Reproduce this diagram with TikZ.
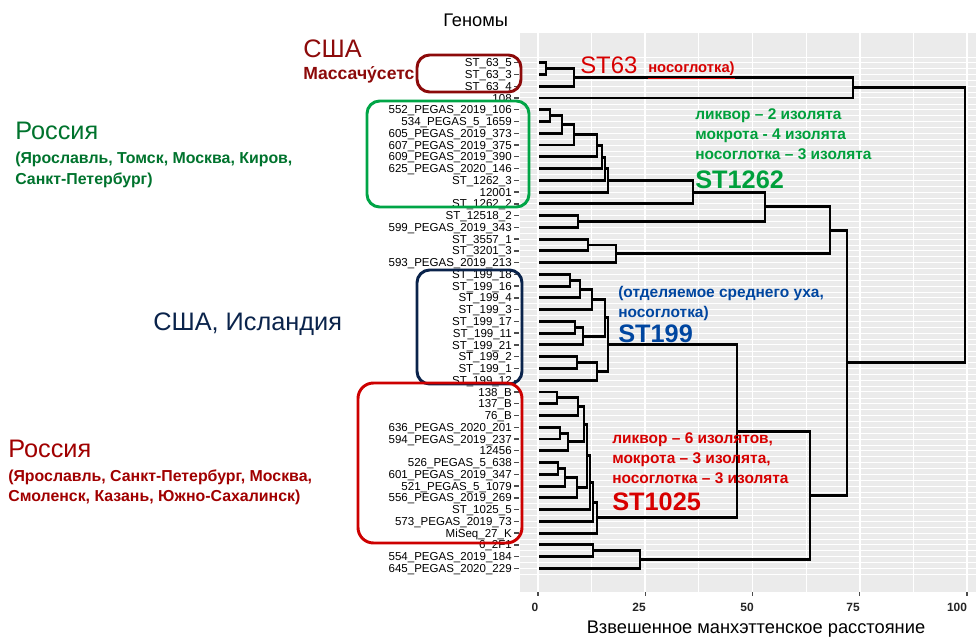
\documentclass[tikz,border=0pt]{standalone}
\usepackage{fontspec}
\setmainfont{Liberation Sans}
\usetikzlibrary{calc}

\definecolor{usared}{RGB}{140,10,10}
\definecolor{rugreen}{RGB}{0,115,45}
\definecolor{boxgreen}{RGB}{0,165,70}
\definecolor{isnavy}{RGB}{10,35,75}
\definecolor{rured}{RGB}{160,0,0}
\definecolor{boxred}{RGB}{205,0,0}
\definecolor{stgreen}{RGB}{0,160,60}
\definecolor{stblue}{RGB}{0,70,160}
\definecolor{stred}{RGB}{215,0,0}
\definecolor{panel}{RGB}{235,235,235}

\tikzset{
  branch/.style={line width=2.1pt, black},
  leaf/.style={anchor=base east, inner sep=0pt, font=\fontsize{8.2}{8.2}\selectfont},
  lbl/.style={anchor=base west, inner sep=0pt},
  bigtxt/.style={font=\fontsize{18}{18}\selectfont},
  smalltxt/.style={font=\bfseries\fontsize{11}{11}\selectfont},
  regtxt/.style={font=\bfseries\fontsize{11.3}{11.3}\selectfont},
  stname/.style={font=\bfseries\fontsize{18}{18}\selectfont},
  grp/.style={line width=2.1pt, rounded corners=9pt},
  tickmark/.style={black!70, line width=1pt}
}

% merge two children at horizontal position #4
\newcommand{\mergeat}[4]{%
  \path ($(#2)!.5!(#3)$) coordinate (#1-y);
  \coordinate (#1) at (#4,0 |- #1-y);
  \draw[branch] (#2) -- (#2 -| #1) -- (#3 -| #1) -- (#3);
}

\begin{document}
\begin{tikzpicture}[x=0.025cm, y=-0.025cm]
  \useasboundingbox (0,0) rectangle (976,637);

  % panel
  \fill[panel] (520,33) rectangle (976,592);
  \foreach \i in {1,...,44}
    \draw[white, line width=0.7pt] (520,{62.7+11.76*(\i-1)}) -- (976,{62.7+11.76*(\i-1)});
  \foreach \i in {0,...,44}
    \draw[white, line width=0.4pt] (520,{56.8+11.76*\i}) -- (976,{56.8+11.76*\i});
  \foreach \d in {12.5,37.5,62.5,87.5}
    \draw[white, line width=0.6pt] ({538+4.29*\d},33) -- ({538+4.29*\d},592);
  \foreach \d in {0,25,50,75,100}
    \draw[white, line width=1.1pt] ({538+4.29*\d},33) -- ({538+4.29*\d},592);

  % leaves
  \foreach \lab [count=\i] in {ST\_63\_5, ST\_63\_3, ST\_63\_4, 108,
      552\_PEGAS\_2019\_106, 534\_PEGAS\_5\_1659, 605\_PEGAS\_2019\_373,
      607\_PEGAS\_2019\_375, 609\_PEGAS\_2019\_390, 625\_PEGAS\_2020\_146,
      ST\_1262\_3, 12001, ST\_1262\_2, ST\_12518\_2, 599\_PEGAS\_2019\_343,
      ST\_3557\_1, ST\_3201\_3, 593\_PEGAS\_2019\_213,
      ST\_199\_18, ST\_199\_16, ST\_199\_4, ST\_199\_3, ST\_199\_17,
      ST\_199\_11, ST\_199\_21, ST\_199\_2, ST\_199\_1, ST\_199\_12,
      138\_B, 137\_B, 76\_B, 636\_PEGAS\_2020\_201, 594\_PEGAS\_2019\_237,
      12456, 526\_PEGAS\_5\_638, 601\_PEGAS\_2019\_347, 521\_PEGAS\_5\_1079,
      556\_PEGAS\_2019\_269, ST\_1025\_5, 573\_PEGAS\_2019\_73, MiSeq\_27\_K,
      6\_2F1, 554\_PEGAS\_2019\_184, 645\_PEGAS\_2020\_229} {
    \coordinate (l\i) at (539,{62.7+11.76*(\i-1)});
    \node[leaf] (lab\i) at (512,{66.8+11.76*(\i-1)}) {\lab};
    \draw[tickmark] (514,{62.7+11.76*(\i-1)}) -- (519,{62.7+11.76*(\i-1)});
  }

  % ST63
  \mergeat{a1}{l1}{l2}{546}
  \mergeat{a2}{a1}{l3}{574}
  \mergeat{a3}{a2}{l4}{853}
  % ST1262
  \mergeat{b1}{l5}{l6}{550}
  \mergeat{b2}{b1}{l7}{562}
  \mergeat{b3}{b2}{l8}{574}
  \mergeat{b4}{b3}{l9}{597}
  \mergeat{b5}{b4}{l10}{602}
  \mergeat{b6}{b5}{l11}{605}
  \mergeat{b7}{b6}{l12}{608}
  \mergeat{b8}{b7}{l13}{693}
  \mergeat{c1}{l14}{l15}{578}
  \mergeat{c2}{l16}{l17}{588}
  \mergeat{c3}{c2}{l18}{616}
  \mergeat{g}{b8}{c1}{765}
  \mergeat{e}{g}{c3}{830}
  % ST199
  \mergeat{h1}{l19}{l20}{570}
  \mergeat{h2}{h1}{l21}{580}
  \mergeat{h3}{h2}{l22}{592}
  \mergeat{h4}{l23}{l24}{575}
  \mergeat{h5}{h4}{l25}{583}
  \mergeat{h6}{l26}{l27}{577}
  \mergeat{h7}{h6}{l28}{597}
  \mergeat{h8}{h3}{h5}{605}
  \mergeat{h9}{h8}{h7}{608}
  % ST1025
  \mergeat{j1}{l29}{l30}{557}
  \mergeat{j2}{j1}{l31}{578}
  \mergeat{j3}{l32}{l33}{560}
  \mergeat{j4}{j3}{l34}{568}
  \mergeat{j5}{j2}{j4}{584}
  \mergeat{j6}{l35}{l36}{558}
  \mergeat{j7}{j6}{l37}{565}
  \mergeat{j8}{j7}{l38}{577}
  \mergeat{j9}{j5}{j8}{587}
  \mergeat{j10}{j9}{l39}{590}
  \mergeat{j11}{j10}{l40}{593}
  \mergeat{j12}{j11}{l41}{597}
  \mergeat{i}{h9}{j12}{737}
  \mergeat{k1}{l42}{l43}{593}
  \mergeat{k2}{k1}{l44}{640}
  \mergeat{f}{i}{k2}{810}
  \mergeat{d}{e}{f}{847}
  \mergeat{root}{a3}{d}{965}

  % axis
  \foreach \d/\p in {0/535,25/639,50/747,75/853,100/957} {
    \draw[tickmark] ({538+4.29*\d},592) -- ({538+4.29*\d},596);
    \node[anchor=base, inner sep=0pt, font=\bfseries\fontsize{8.5}{8.5}\selectfont, text=black!85] (tk\d) at (\p,611.5) {\d};
  }
  \node[anchor=base, inner sep=0pt, font=\fontsize{13}{13}\selectfont] (xtitle) at (756,633) {Взвешенное манхэттенское расстояние};
  \node[lbl, font=\fontsize{13}{13}\selectfont] (genomes) at (443,26.5) {Геномы};

  % group boxes
  \draw[grp, usared] (417,55) rectangle (521,92);
  \draw[grp, boxgreen] (367,101) rectangle (529,207);
  \draw[grp, isnavy] (417,270) rectangle (522,384);
  \draw[grp, boxred, rounded corners=11pt] (358,383) rectangle (522,543);

  % countries
  \node[lbl, bigtxt, text=usared] (usa) at (303,57.5) {США};
  \node[lbl, text=usared, font=\bfseries\fontsize{12.5}{12.5}\selectfont] (mass) at (303,80) {Массачу́сетс};
  \node[lbl, bigtxt, text=rugreen] (ru1) at (15,140) {Россия};
  \node[lbl, regtxt, text=rugreen] (ru1a) at (15,163.5) {(Ярославль, Томск, Москва, Киров,};
  \node[lbl, regtxt, text=rugreen] (ru1b) at (15,185) {Санкт-Петербург)};
  \node[lbl, bigtxt, text=isnavy] (usis) at (153,330) {США, Исландия};
  \node[lbl, bigtxt, text=rured] (ru2) at (8,457.5) {Россия};
  \node[lbl, regtxt, text=rured] (ru2a) at (8,481.5) {(Ярославль, Санкт-Петербург, Москва,};
  \node[lbl, regtxt, text=rured] (ru2b) at (8,501.5) {Смоленск, Казань, Южно-Сахалинск)};

  % sequence types
  \node[lbl, text=stred, font=\fontsize{17}{17}\selectfont] (st63) at (580,73.3) {ST63};
  \node[lbl, text=stred, font=\bfseries\fontsize{10.5}{10.5}\selectfont] (st63a) at (648,73) {\underline{носоглотка)}};
  \node[lbl, smalltxt, text=stgreen] (g1) at (695,120) {ликвор – 2 изолята};
  \node[lbl, smalltxt, text=stgreen] (g2) at (695,140) {мокрота - 4 изолята};
  \node[lbl, smalltxt, text=stgreen] (g3) at (695,160) {носоглотка – 3 изолята};
  \node[lbl, stname, text=stgreen] (st1262) at (695,188) {ST1262};
  \node[lbl, smalltxt, text=stblue] (bl1) at (618,297) {(отделяемое среднего уха,};
  \node[lbl, smalltxt, text=stblue] (bl2) at (618,317) {носоглотка)};
  \node[lbl, stname, text=stblue] (st199) at (618,342) {ST199};
  \node[lbl, smalltxt, text=stred] (r1) at (612,443) {ликвор – 6 изолятов,};
  \node[lbl, smalltxt, text=stred] (r2) at (612,463) {мокрота – 3 изолята,};
  \node[lbl, smalltxt, text=stred] (r3) at (612,483) {носоглотка – 3 изолята};
  \node[lbl, stname, text=stred] (st1025) at (612,510) {ST1025};
\end{tikzpicture}
\end{document}
